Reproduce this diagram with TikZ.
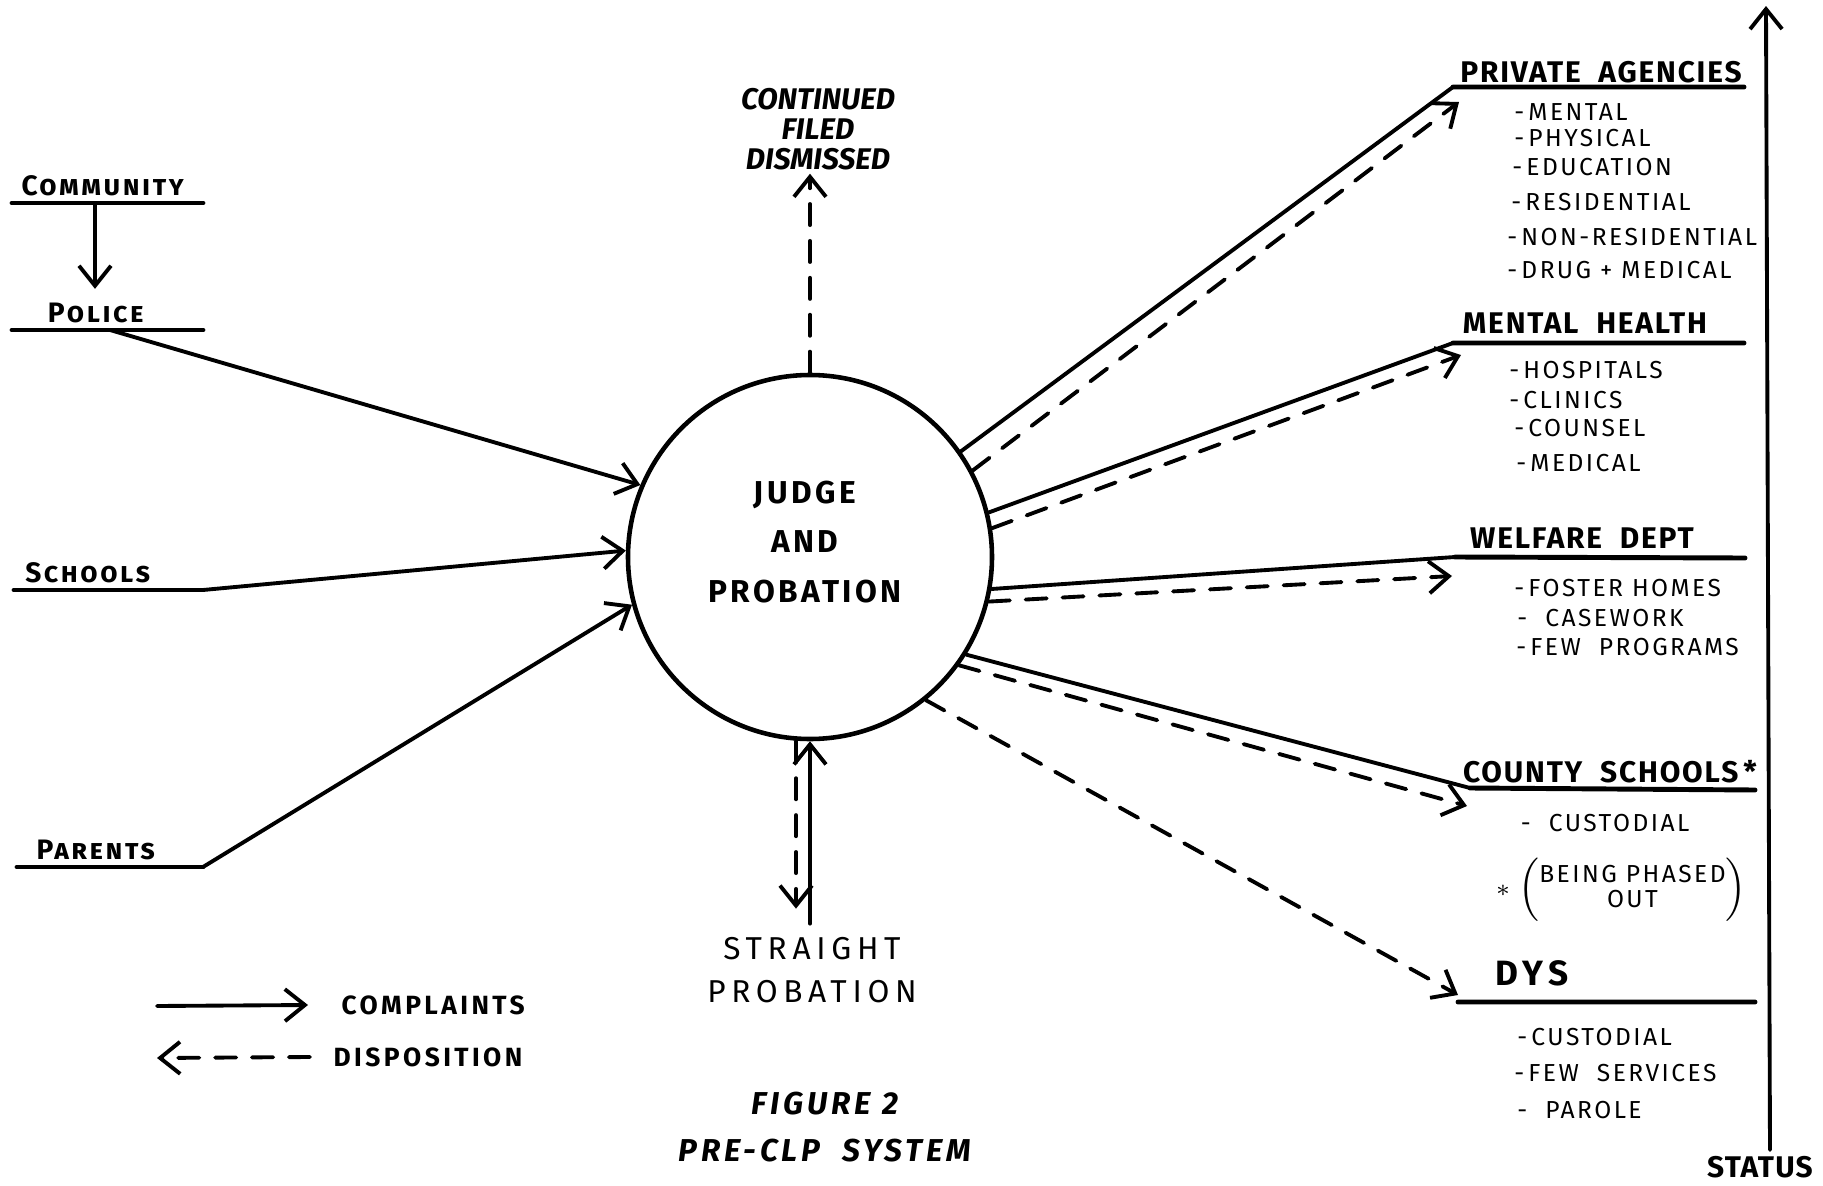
\documentclass[tikz,border=0pt]{standalone}
\usepackage{fontspec}
\setmainfont{Fira Sans}
\usetikzlibrary{arrows.meta}
\begin{document}
\begin{tikzpicture}[>={Straight Barb[length=2mm,width=3.2mm]},line join=round,line cap=round,line width=1.1pt,
	disp/.style={dash pattern=on 6pt off 4.5pt},
	ul/.style={line width=1.4pt},
	src/.style={font=\fontsize{8}{9}\selectfont\bfseries\addfontfeatures{LetterSpace=9},anchor=base},
	hd/.style={font=\fontsize{8.5}{10}\selectfont\bfseries\addfontfeatures{LetterSpace=6},anchor=base},
	sub/.style={font=\fontsize{7}{8}\selectfont\addfontfeatures{LetterSpace=10},anchor=west,inner sep=1pt},
	lg/.style={font=\fontsize{7.5}{9}\selectfont\bfseries\addfontfeatures{LetterSpace=13},anchor=west}]
	\useasboundingbox (0,0) rectangle (18.23,11.85);
	% judge and probation
	\node[draw,circle,minimum size=3.64cm,line width=1.3pt] (jp) at (8.10,6.28) {};
	\node[font=\fontsize{9}{14}\selectfont\bfseries\addfontfeatures{LetterSpace=11},align=center] (jptxt) at (8.05,6.43) {JUDGE\\AND\\PROBATION};
	% sources on the left
	\path 
	(0.12,9.82) coordinate (comL) (2.03,9.82) coordinate (comR)
	(0.12,8.55) coordinate (polL) (2.03,8.55) coordinate (polR)
	(0.14,5.95) coordinate (schL) (2.03,5.95) coordinate (schR)
	(0.17,3.18) coordinate (parL) (2.03,3.18) coordinate (parR)
	(0.95,9.82) coordinate (comA)
	(1.10,8.55) coordinate (polS);
	\draw[ul] (comL)--(comR) (polL)--(polR) (schL)--(schR) (parL)--(parR);
	\node[src] (com) at (1.04,9.90) {\textsc{Community}};
	\node[src] (pol) at (0.97,8.63) {\textsc{Police}};
	\node[src] (sch) at (0.89,6.03) {\textsc{Schools}};
	\node[src] (par) at (0.97,3.26) {\textsc{Parents}};
	\draw[->] (comA) -- (comA |- pol.north);
	% complaints
	\draw[->] (polS) -- (jp.157);
	\draw[->] (schR) -- (jp.178);
	\draw[->] (parR) -- (jp.195);
	% top and bottom
	\node[font=\fontsize{8.5}{8.6}\selectfont\bfseries\itshape,align=center] (cfd) at (8.18,10.56) {CONTINUED\\FILED\\DISMISSED};
	\draw[disp,->] (jp.north) -- ([yshift=1mm]jp.north |- cfd.south);
	\node[font=\fontsize{9}{12.2}\selectfont\addfontfeatures{LetterSpace=18},align=center] (sp) at (8.12,2.15) {STRAIGHT\\PROBATION};
	\draw[->] (jp.south |- sp.north) -- (jp.south);
	\draw[disp,->] ([xshift=-1.4mm]jp.south) -- ([xshift=-1.4mm,yshift=1.5mm]jp.south |- sp.north);
	% status axis
	\path (17.70,0.35) coordinate (stB) (17.66,11.79) coordinate (stT);
	\draw[->] (stB) -- (stT);
	\node[font=\fontsize{8.5}{10}\selectfont\bfseries\addfontfeatures{LetterSpace=4}] (st) at (17.60,0.18) {STATUS};
	% places on the right
	\path 
	(14.53,10.98) coordinate (paL) (17.44,10.98) coordinate (paR) (14.59,10.83) coordinate (paA)
	(14.53,8.42) coordinate (mhL) (17.44,8.42) coordinate (mhR) (14.61,8.30) coordinate (mhA)
	(14.55,6.28) coordinate (wdL) (17.45,6.27) coordinate (wdR) (14.52,6.09) coordinate (wdA)
	(14.70,3.97) coordinate (csL) (17.55,3.95) coordinate (csR) (14.67,3.79) coordinate (csA)
	(14.58,1.83) coordinate (dyL) (17.55,1.83) coordinate (dyR) (14.58,1.90) coordinate (dyA);
	\draw[ul] (paL)--(paR) (mhL)--(mhR) (wdL)--(wdR) (csL)--(csR) (dyL)--(dyR);
	\draw (jp.35) -- (paL);
	\draw (jp.14) -- (mhL);
	\draw (jp.-10) -- (wdL);
	\draw (jp.-32) -- (csL);
	% dispositions
	\draw[disp,->] (jp.28) -- (paA);
	\draw[disp,->] (jp.9) -- (mhA);
	\draw[disp,->] (jp.-14) -- (wdA);
	\draw[disp,->] (jp.-36) -- (csA);
	\draw[disp,->] (jp.-51) -- (dyA);
	\node[hd] (pa) at (16.01,11.03) {PRIVATE\ \ AGENCIES};
	\node[sub] (pa1) at (15.09,10.73) {-\,MENTAL};
	\node[sub] (pa2) at (15.09,10.47) {-\,PHYSICAL};
	\node[sub] (pa3) at (15.07,10.18) {-\,EDUCATION};
	\node[sub] (pa4) at (15.06,9.83) {-\,RESIDENTIAL};
	\node[sub] (pa5) at (15.02,9.48) {-\,NON-RESIDENTIAL};
	\node[sub] (pa6) at (15.02,9.15) {-\,DRUG + MEDICAL};
	\node[hd] (mh) at (15.85,8.52) {MENTAL\ \ HEALTH};
	\node[sub] (mh1) at (15.04,8.15) {-\,HOSPITALS};
	\node[sub] (mh2) at (15.04,7.85) {-\,CLINICS};
	\node[sub] (mh3) at (15.09,7.57) {-\,COUNSEL};
	\node[sub] (mh4) at (15.11,7.22) {-\,MEDICAL};
	\node[hd] (wd) at (15.82,6.37) {WELFARE\ \ DEPT};
	\node[sub] (wd1) at (15.09,5.97) {-\,FOSTER HOMES};
	\node[sub] (wd2) at (15.12,5.67) {-\ \ CASEWORK};
	\node[sub] (wd3) at (15.11,5.38) {-\,FEW\ \ PROGRAMS};
	\node[hd] (cs) at (16.10,4.03) {COUNTY\ \ SCHOOLS\,*};
	\node[sub,inner sep=0pt] (cs1) at (15.19,3.62) {-\ \ CUSTODIAL};
	\node[sub,inner sep=0pt] (cs2) at (14.94,2.95) {$*\;\bigl(\renewcommand\arraystretch{0.9}\begin{tabular}{@{}c@{}}BEING PHASED\\OUT\end{tabular}\bigr)$};
	\node[hd,font=\fontsize{10}{12}\selectfont\bfseries\addfontfeatures{LetterSpace=15}] (dy) at (15.32,2.00) {DYS};
	\node[sub] (dy1) at (15.12,1.48) {-\,CUSTODIAL};
	\node[sub] (dy2) at (15.09,1.12) {-\,FEW\ \ SERVICES};
	\node[sub] (dy3) at (15.12,0.75) {-\ \ PAROLE};
	% legend
	\path (1.57,1.79) coordinate (lgA) (1.57,1.27) coordinate (lgB);
	\node[lg] (cmp) at (3.28,1.80) {COMPLAINTS};
	\node[lg] (dsp) at (3.20,1.28) {DISPOSITION};
	\draw[->] (lgA) -- ([xshift=-2mm]cmp.west);
	\draw[disp,->] ([xshift=-1mm]dsp.west) -- (lgB);
	\node[font=\fontsize{9}{13.4}\selectfont\bfseries\itshape\addfontfeatures{LetterSpace=12},align=center] (cap) at (8.25,0.58) {FIGURE 2\\PRE-CLP\ \ SYSTEM};
\end{tikzpicture}
\end{document}
